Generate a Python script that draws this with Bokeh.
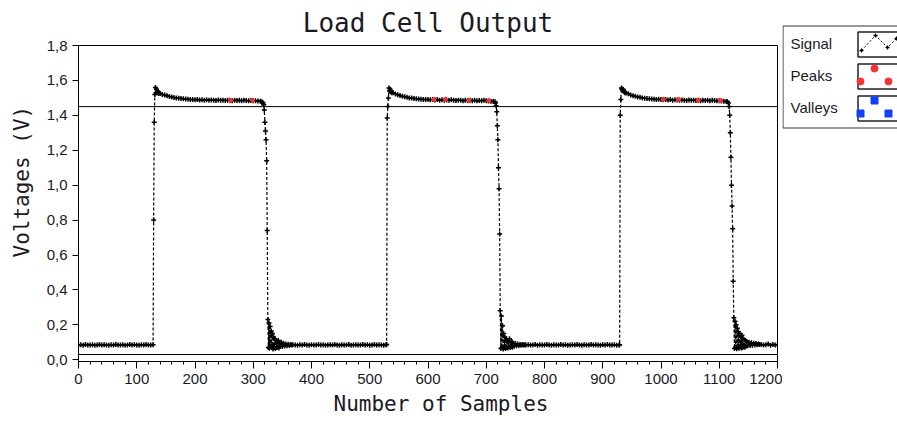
from bokeh.plotting import figure
from bokeh.models import Range1d, Span, FixedTicker, CustomJSTickFormatter, Title
from bokeh.layouts import row
from bokeh.embed import file_html
from bokeh.resources import INLINE
from bokeh.core.properties import value

# ---------------- data ----------------
title_text = "Load Cell Output"
x_label = "Number of Samples"
y_label = "Voltages (V)"
x_tick_values = [0, 100, 200, 300, 400, 500, 600, 700, 800, 900, 1000, 1100, 1200]
x_minor_values = [v for v in range(0, 1201, 20)]
y_tick_values = [0.0, 0.2, 0.4, 0.6, 0.8, 1.0, 1.2, 1.4, 1.6, 1.8]
peak_threshold = 1.45
valley_threshold = 0.03
legend_labels = ["Signal", "Peaks", "Valleys"]

# regular-sampled segments: (first sample, sample step, voltages)
low1_start, low1_step = 0, 4
low1_y = [0.084, 0.086, 0.083, 0.087, 0.085, 0.084, 0.086, 0.083, 0.085, 0.087,
          0.084, 0.086, 0.085, 0.083, 0.086, 0.084, 0.087, 0.085, 0.084, 0.086,
          0.083, 0.085, 0.087, 0.084, 0.086, 0.085, 0.083, 0.086, 0.084, 0.087,
          0.085, 0.084, 0.086]
rise1_x = [129, 130, 131, 132, 133, 134, 135, 136, 137, 138]
rise1_y = [0.80, 1.36, 1.52, 1.56, 1.53, 1.55, 1.535, 1.54, 1.525, 1.53]
plateau1_start, plateau1_step = 140, 4
plateau1_y = [1.525, 1.52, 1.516, 1.512, 1.508, 1.505, 1.502, 1.50, 1.498, 1.496,
              1.495, 1.493, 1.492, 1.49, 1.491, 1.489, 1.49, 1.488, 1.489, 1.487,
              1.489, 1.486, 1.488, 1.487, 1.485, 1.488, 1.486, 1.487, 1.485, 1.487,
              1.486, 1.484, 1.487, 1.485, 1.486, 1.484, 1.486, 1.485, 1.483, 1.485,
              1.484, 1.483, 1.482, 1.48]
fall1_x = [315, 317, 318, 319, 320, 321, 322, 323]
fall1_y = [1.478, 1.47, 1.46, 1.43, 1.36, 1.31, 1.26, 1.14]
ring1_x = [324, 325, 326, 327, 328, 329, 330, 331, 332, 333, 334, 335, 336, 337, 338, 339,
           340, 341, 342, 343, 344, 345, 346, 348, 350, 352, 354, 356, 358, 360, 362, 364,
           366, 368]
ring1_y = [0.74, 0.23, 0.07, 0.21, 0.066, 0.19, 0.08, 0.165, 0.07, 0.15,
           0.062, 0.13, 0.075, 0.12, 0.065, 0.11, 0.07, 0.105, 0.072, 0.11,
           0.068, 0.095, 0.078, 0.10, 0.076, 0.094, 0.079, 0.09, 0.08, 0.089,
           0.082, 0.088, 0.084, 0.086]
low2_start, low2_step = 372, 4
low2_y = [0.085, 0.083, 0.086, 0.084, 0.087, 0.085, 0.083, 0.086, 0.084, 0.085,
          0.087, 0.084, 0.086, 0.083, 0.085, 0.086, 0.084, 0.087, 0.085, 0.083,
          0.086, 0.085, 0.084, 0.087, 0.083, 0.085, 0.086, 0.084, 0.085, 0.087,
          0.084, 0.086, 0.083, 0.085, 0.087, 0.084, 0.086, 0.085, 0.083, 0.086]
rise2_x = [529, 530, 531, 532, 533, 534, 535, 536, 537, 538]
rise2_y = [0.087, 1.385, 1.45, 1.50, 1.557, 1.54, 1.55, 1.535, 1.54, 1.53]
plateau2_start, plateau2_step = 540, 4
plateau2_y = [1.53, 1.522, 1.518, 1.513, 1.51, 1.506, 1.503, 1.50, 1.499, 1.497,
              1.495, 1.494, 1.492, 1.491, 1.49, 1.491, 1.489, 1.49, 1.488, 1.49,
              1.487, 1.489, 1.486, 1.488, 1.487, 1.489, 1.486, 1.485, 1.487, 1.486,
              1.484, 1.486, 1.485, 1.487, 1.484, 1.486, 1.483, 1.485, 1.484, 1.486,
              1.483, 1.482, 1.481, 1.479]
fall2_x = [715, 716, 717, 718, 719, 720, 721, 722, 723]
fall2_y = [1.478, 1.47, 1.455, 1.42, 1.34, 1.26, 1.10, 0.98, 0.72]
ring2_x = [724, 725, 726, 727, 728, 729, 730, 731, 732, 733, 734, 735, 736, 737, 738, 739,
           740, 741, 742, 743, 744, 745, 746, 748, 750, 752, 754, 756, 758, 760, 762, 764,
           766, 768]
ring2_y = [0.28, 0.065, 0.25, 0.07, 0.195, 0.062, 0.15, 0.075, 0.13, 0.065,
           0.12, 0.07, 0.11, 0.068, 0.10, 0.074, 0.12, 0.07, 0.098, 0.076,
           0.105, 0.072, 0.095, 0.078, 0.093, 0.08, 0.09, 0.081, 0.088, 0.083,
           0.087, 0.084, 0.086, 0.085]
low3_start, low3_step = 772, 4
low3_y = [0.086, 0.084, 0.085, 0.087, 0.083, 0.086, 0.085, 0.084, 0.087, 0.085,
          0.083, 0.086, 0.084, 0.085, 0.087, 0.084, 0.086, 0.083, 0.085, 0.086,
          0.084, 0.087, 0.085, 0.083, 0.086, 0.084, 0.085, 0.087, 0.084, 0.086,
          0.085, 0.083, 0.086, 0.084, 0.087, 0.085, 0.084, 0.086, 0.083, 0.085]
rise3_x = [929, 930, 931, 932, 933, 934, 935, 936, 937, 938]
rise3_y = [0.086, 1.40, 1.49, 1.557, 1.55, 1.545, 1.55, 1.54, 1.535, 1.53]
plateau3_start, plateau3_step = 940, 4
plateau3_y = [1.528, 1.523, 1.517, 1.512, 1.509, 1.505, 1.503, 1.50, 1.498, 1.496,
              1.495, 1.493, 1.492, 1.49, 1.492, 1.49, 1.489, 1.491, 1.488, 1.49,
              1.487, 1.489, 1.488, 1.486, 1.488, 1.487, 1.485, 1.488, 1.486, 1.487,
              1.485, 1.487, 1.484, 1.486, 1.485, 1.487, 1.484, 1.486, 1.485, 1.483,
              1.484, 1.482, 1.481, 1.479]
fall3_x = [1114, 1116, 1117, 1118, 1119, 1120, 1121, 1122, 1123, 1124]
fall3_y = [1.478, 1.47, 1.45, 1.40, 1.30, 1.16, 1.00, 0.88, 0.75, 0.45]
ring3_x = [1125, 1126, 1127, 1128, 1129, 1130, 1131, 1132, 1133, 1134, 1135, 1136, 1137,
           1138, 1139, 1140, 1141, 1142, 1143, 1144, 1145, 1146, 1147, 1149, 1151, 1153,
           1155, 1157, 1159, 1161, 1163, 1165, 1167, 1169]
ring3_y = [0.24, 0.065, 0.22, 0.07, 0.20, 0.063, 0.18, 0.072, 0.16, 0.066,
           0.15, 0.075, 0.13, 0.068, 0.14, 0.07, 0.12, 0.074, 0.115, 0.072,
           0.11, 0.078, 0.105, 0.08, 0.10, 0.082, 0.098, 0.083, 0.095, 0.085,
           0.093, 0.086, 0.09, 0.088]
low4_start, low4_step = 1172, 4
low4_y = [0.088, 0.084, 0.086, 0.09, 0.083, 0.087, 0.085, 0.086]

peaks_x = [261, 299, 610, 630, 670, 704, 1004, 1030, 1064, 1102]
peaks_y = [1.484, 1.486, 1.49, 1.492, 1.485, 1.483, 1.492, 1.491, 1.486, 1.484]
valleys_x = []
valleys_y = []


def regular(start, step, ys):
    return [start + step * i for i in range(len(ys))]


signal_x, signal_y = [], []
for xs, ys in [
    (regular(low1_start, low1_step, low1_y), low1_y),
    (rise1_x, rise1_y),
    (regular(plateau1_start, plateau1_step, plateau1_y), plateau1_y),
    (fall1_x, fall1_y),
    (ring1_x, ring1_y),
    (regular(low2_start, low2_step, low2_y), low2_y),
    (rise2_x, rise2_y),
    (regular(plateau2_start, plateau2_step, plateau2_y), plateau2_y),
    (fall2_x, fall2_y),
    (ring2_x, ring2_y),
    (regular(low3_start, low3_step, low3_y), low3_y),
    (rise3_x, rise3_y),
    (regular(plateau3_start, plateau3_step, plateau3_y), plateau3_y),
    (fall3_x, fall3_y),
    (ring3_x, ring3_y),
    (regular(low4_start, low4_step, low4_y), low4_y),
]:
    for a, b in zip(xs, ys):
        signal_x.append(a)
        signal_y.append(b)

# ---------------- main chart ----------------
TEXT = "#1a1a24"
p = figure(width=782, height=423, x_range=Range1d(0, 1200), y_range=Range1d(-0.01, 1.8),
           output_backend="svg", toolbar_location=None, title=title_text,
           min_border_left=78, min_border_right=5, min_border_top=45, min_border_bottom=62)
p.frame_align = False
p.background_fill_color = "white"
p.border_fill_color = "white"
p.outline_line_color = "black"
p.outline_line_width = 1
p.grid.visible = False

p.title.align = "center"
p.title.vertical_align = "top"
p.title.text_font = "DejaVu Sans Mono"
p.title.text_font_size = "26px"
p.title.text_font_style = "normal"
p.title.text_color = TEXT
p.title.standoff = 12

for ax in (p.xaxis[0], p.yaxis[0]):
    ax.axis_line_color = "black"
    ax.major_tick_line_color = "black"
    ax.minor_tick_line_color = "black"
    ax.major_tick_in = 0
    ax.minor_tick_in = 0
    ax.major_label_text_font = "Liberation Sans"
    ax.major_label_text_font_size = "15px"
    ax.major_label_text_color = TEXT

p.xaxis.ticker = FixedTicker(ticks=x_tick_values, minor_ticks=x_minor_values)
p.xaxis.major_tick_out = 7
p.xaxis.minor_tick_out = 3
p.xaxis.major_label_standoff = 5

p.yaxis.ticker = FixedTicker(ticks=y_tick_values, minor_ticks=[])
p.yaxis.formatter = CustomJSTickFormatter(code="return tick.toFixed(1).replace('.', ',');")
p.yaxis.major_tick_out = 6
p.yaxis.minor_tick_out = 0
p.yaxis.major_label_standoff = 5

# axis titles (placed slightly off-centre as in the reference)
x_title = Title(text=x_label, align="left", offset=255, vertical_align="bottom", standoff=6,
                text_font="DejaVu Sans Mono", text_font_size="21px", text_font_style="normal",
                text_color=TEXT)
p.add_layout(x_title, "below")
y_title = Title(text=y_label, align="left", offset=104, vertical_align="top", standoff=15,
                text_font="DejaVu Sans Mono", text_font_size="21px", text_font_style="normal",
                text_color=TEXT)
p.add_layout(y_title, "left")

p.add_layout(Span(location=peak_threshold, dimension="width", line_color="black", line_width=1))
p.add_layout(Span(location=valley_threshold, dimension="width", line_color="black", line_width=1))

p.line(signal_x, signal_y, line_color="black", line_width=1.2, line_dash="3 2")
p.scatter(signal_x, signal_y, marker="cross", size=5, line_color="black", line_width=1.5)
p.scatter(peaks_x, peaks_y, marker="circle", size=4, fill_color="#ff2e2e", line_color="#ff2e2e")
p.scatter(valleys_x, valleys_y, marker="square", size=5, fill_color="#1040ff", line_color="#1040ff")

# ---------------- legend panel ----------------
lg = figure(width=115, height=130, x_range=Range1d(0, 115), y_range=Range1d(130, 0),
            output_backend="svg", toolbar_location=None, min_border=0, title=None,
            x_axis_location=None, y_axis_location=None)
lg.frame_align = False
lg.grid.visible = False
lg.outline_line_color = None
lg.background_fill_color = "white"
lg.border_fill_color = "white"

lg.quad(left=[0.5], right=[140], top=[25.5], bottom=[127.5], fill_color=None,
        line_color="#333333", line_width=1)
lg.quad(left=[75.5, 75.5, 75.5], right=[140, 140, 140], top=[31.5, 63.5, 95.5],
        bottom=[56.5, 88.5, 120.5], fill_color="white", line_color="#222222", line_width=1.5)
lg.text(x=[8, 8, 8], y=[43, 75, 107], text=legend_labels,
        text_font=value("Liberation Sans"), text_font_size=value("15px"), text_color=TEXT,
        text_baseline="middle", text_align="left")
sig_px = [79, 93, 105, 114]
sig_py = [50, 35, 47, 38]
lg.line(sig_px, sig_py, line_color="black", line_width=1, line_dash="2 2")
lg.scatter(sig_px, sig_py, marker="cross", size=4, line_color="black", line_width=1.3)
lg.scatter([78, 92, 106], [81, 68, 81], marker="circle", size=7, fill_color="#ff3030",
           line_color="#ff3030")
lg.scatter([78, 92, 106], [113, 100, 113], marker="square", size=7, fill_color="#1040ff",
           line_color="#1040ff")

layout = row(p, lg)
open("out.html", "w").write(file_html(layout, INLINE))
